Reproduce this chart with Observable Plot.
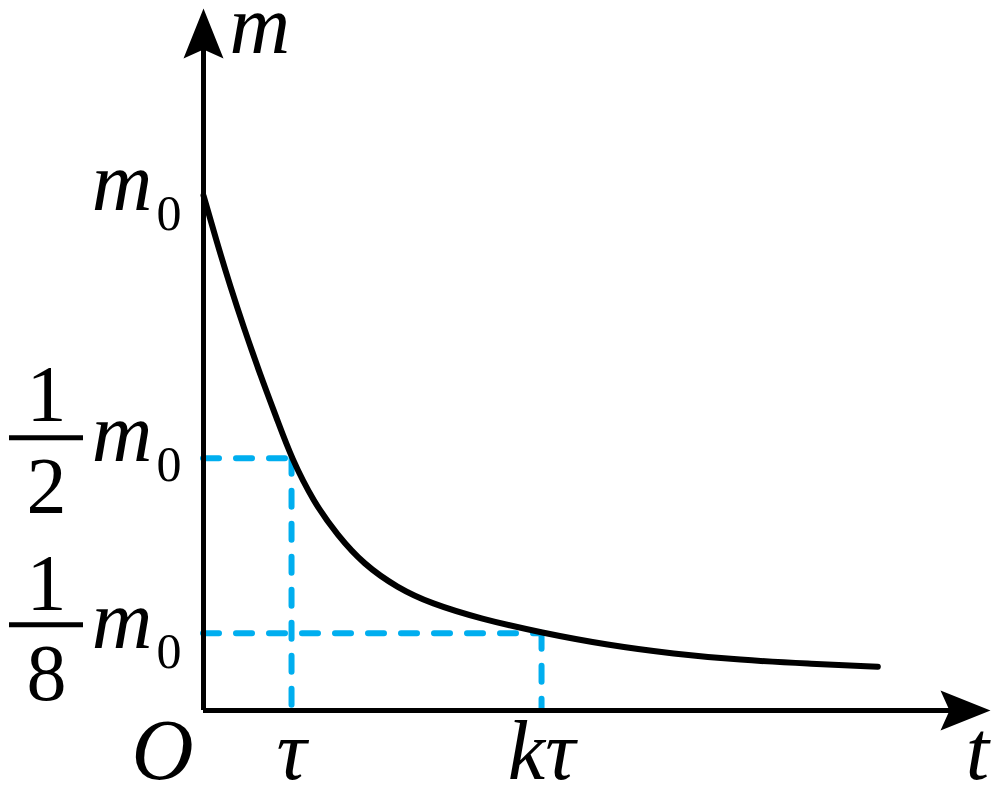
<!DOCTYPE html>
<html><head><meta charset="utf-8">
<script src="https://cdn.jsdelivr.net/npm/d3@7"></script>
<script src="https://cdn.jsdelivr.net/npm/@observablehq/plot@0.6"></script>
<style>
body{margin:0;background:#fff;overflow:hidden}
</style>
</head><body><div id="chart"></div>
<script>
// Decay curve m(t), t in units of tau, m in units of m0
const curveT = [0, 0.159, 0.307, 0.455, 0.648, 0.841, 1, 1.25, 1.523, 1.818, 2.205, 2.58, 3.148, 3.84, 4.59, 5.34, 6.10, 6.86, 7.66];
const curveM = [1, 0.905, 0.822, 0.745, 0.650, 0.563, 0.49, 0.405, 0.340, 0.284, 0.238, 0.208, 0.178, 0.151, 0.127, 0.110, 0.098, 0.091, 0.085];
// Marked levels / times
const tauT = 1, kTauT = 3.84;
const halfM = 0.49, eighthM = 0.15, fullM = 1;
const tMax = 8.94, mMax = 1.363;
// Labels
const xLabels = ["O", "τ", "kτ", "t"];
const yAxisLabel = "m";

const curve = curveT.map((t, i) => ({t, m: curveM[i]}));
const guides = [{t: tauT, m: halfM}, {t: kTauT, m: eighthM}];

const serif = "Liberation Serif";
const blue = "#00AEEF";

const arrowUp = {draw(ctx) { ctx.moveTo(0, 0); ctx.lineTo(-20, 50); ctx.lineTo(0, 41); ctx.lineTo(20, 50); ctx.closePath(); }};
const arrowRight = {draw(ctx) { ctx.moveTo(0, 0); ctx.lineTo(-50, -20); ctx.lineTo(-41, 0); ctx.lineTo(-50, 20); ctx.closePath(); }};

function lab(text, x, y, o) {
  return Plot.text([text], {x: () => x, y: () => y, text: d => d, fontFamily: serif, fill: "black", lineAnchor: "bottom", ...o});
}

const dash = {stroke: blue, strokeWidth: 6, strokeDasharray: "16,17", strokeLinecap: "round"};

const plot = Plot.plot({
  width: 1000, height: 798,
  marginLeft: 203, marginRight: 10, marginTop: 8, marginBottom: 88,
  x: {domain: [0, tMax], axis: null},
  y: {domain: [0, mMax], axis: null},
  marks: [
    // dashed guides
    Plot.ruleY(guides, {y: "m", x1: 0, x2: "t", ...dash}),
    Plot.ruleX(guides, {x: "t", y1: "m", y2: 0, ...dash}),
    // axes
    Plot.ruleY([0], {x1: 0, x2: tMax - 0.3, stroke: "black", strokeWidth: 5}),
    Plot.ruleX([0], {y1: 0, y2: mMax - 0.05, stroke: "black", strokeWidth: 5}),
    Plot.dot([0], {x: () => tMax, y: () => 0, symbol: arrowRight, fill: "black", stroke: "none"}),
    Plot.dot([0], {x: () => 0, y: () => mMax, symbol: arrowUp, fill: "black", stroke: "none"}),
    // curve
    Plot.line(curve, {x: "t", y: "m", curve: "basis", stroke: "black", strokeWidth: 6}),
    // axis names
    lab(yAxisLabel, 0, mMax, {dx: 26, dy: 44, textAnchor: "start", fontSize: 84, fontStyle: "italic"}),
    lab(xLabels[3], tMax, 0, {dx: -13, dy: 68, textAnchor: "middle", fontSize: 84, fontStyle: "italic"}),
    // x tick labels
    lab(xLabels[0], 0, 0, {dx: -10, dy: 68, textAnchor: "end", fontSize: 86, fontStyle: "italic"}),
    lab(xLabels[1], tauT, 0, {dx: 0, dy: 68, textAnchor: "middle", fontSize: 84, fontStyle: "italic"}),
    lab(xLabels[2], kTauT, 0, {dx: 0, dy: 68, textAnchor: "middle", fontSize: 84, fontStyle: "italic"}),
    // y labels: m0
    lab("m", 0, fullM, {dx: -51, dy: 15, textAnchor: "end", fontSize: 84, fontStyle: "italic"}),
    lab("0", 0, fullM, {dx: -22, dy: 35, textAnchor: "end", fontSize: 50}),
    // 1/2 m0
    lab("m", 0, halfM, {dx: -51, dy: 3, textAnchor: "end", fontSize: 84, fontStyle: "italic"}),
    lab("0", 0, halfM, {dx: -22, dy: 23, textAnchor: "end", fontSize: 50}),
    lab("1", 0, halfM, {dx: -157, dy: -37, textAnchor: "middle", fontSize: 80}),
    lab("2", 0, halfM, {dx: -157, dy: 55, textAnchor: "middle", fontSize: 80}),
    // 1/8 m0
    lab("m", 0, eighthM, {dx: -51, dy: 15, textAnchor: "end", fontSize: 84, fontStyle: "italic"}),
    lab("0", 0, eighthM, {dx: -22, dy: 35, textAnchor: "end", fontSize: 50}),
    lab("1", 0, eighthM, {dx: -157, dy: -23, textAnchor: "middle", fontSize: 80}),
    lab("8", 0, eighthM, {dx: -157, dy: 67, textAnchor: "middle", fontSize: 80})
  ]
});

// fraction bars, placed with the plot's own scales
const xs = plot.scale("x"), ys = plot.scale("y");
const x0 = xs.apply(0);
[[halfM, -20], [eighthM, -8]].forEach(([v, off]) => {
  const yy = ys.apply(v) + off;
  d3.select(plot).append("line")
    .attr("x1", x0 - 194).attr("x2", x0 - 120)
    .attr("y1", yy).attr("y2", yy)
    .attr("stroke", "black").attr("stroke-width", 5);
});
document.getElementById("chart").appendChild(plot);
</script>
</body></html>
